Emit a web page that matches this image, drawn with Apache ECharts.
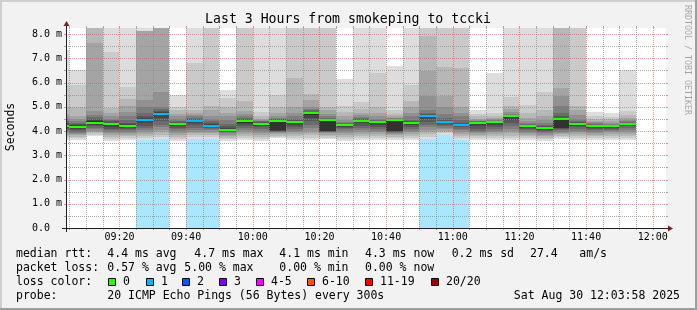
<!DOCTYPE html>
<html><head><meta charset="utf-8">
<script src="https://cdn.jsdelivr.net/npm/echarts@6/dist/echarts.min.js"></script>
<style>html,body{margin:0;padding:0;background:#f2f2f2}#c{width:697px;height:310px}</style>
</head><body><div id="c"></div>
<script>
// ---------- data ----------
const binStart = ['09:00','09:05','09:10','09:15','09:20','09:25','09:30','09:35','09:40','09:45','09:50','09:55',
                  '10:00','10:05','10:10','10:15','10:20','10:25','10:30','10:35','10:40','10:45','10:50','10:55',
                  '11:00','11:05','11:10','11:15','11:20','11:25','11:30','11:35','11:40','11:45','11:50'];
const median = [4.20,4.15,4.35,4.27,4.20,4.45,4.72,4.27,4.42,4.22,4.06,4.40,
                4.30,4.43,4.38,4.74,4.46,4.24,4.43,4.36,4.46,4.32,4.63,4.39,
                4.26,4.33,4.38,4.60,4.19,4.11,4.48,4.29,4.19,4.19,4.30];
const lossCount = [0,0,0,0,0,1,1,0,1,1,0,0, 0,0,0,0,0,0,0,0,0,0,1,1, 1,0,0,0,0,0,0,0,0,0,0];
// 20 sorted ping times (ms) per 5-minute bin
const pings = [
 [3.62,3.70,3.78,3.85,3.92,3.98,4.04,4.10,4.14,4.18, 4.24,4.28,4.33,4.40,4.48,4.58,4.70,5.00,5.90,7.35],
 [3.62,3.70,3.77,3.83,3.88,3.93,3.98,4.03,4.08,4.12, 4.20,4.25,4.30,4.35,4.42,4.50,4.62,4.98,5.89,6.53],
 [3.78,3.84,3.90,3.96,4.02,4.08,4.14,4.20,4.26,4.31, 4.40,4.45,4.50,4.58,4.68,4.82,7.65,8.40,8.40,8.40],
 [3.57,3.66,3.74,3.82,3.90,3.97,4.04,4.10,4.16,4.22, 4.30,4.35,4.40,4.45,4.50,4.60,4.75,4.95,7.24,8.40],
 [3.62,3.70,3.78,3.85,3.92,3.98,4.04,4.10,4.14,4.17, 4.25,4.30,4.35,4.45,4.60,4.80,5.03,5.33,5.80,8.40],
 [3.64,3.72,3.80,3.88,3.96,4.04,4.12,4.22,4.32,4.40, 4.48,4.53,4.62,4.75,5.00,5.29,8.12,8.13,8.14,8.40],
 [3.67,3.76,3.85,3.95,4.05,4.15,4.25,4.40,4.55,4.68, 4.75,4.78,4.82,4.90,5.01,5.63,8.40,8.40,8.40,8.40],
 [3.60,3.68,3.76,3.84,3.92,4.00,4.08,4.14,4.19,4.23, 4.30,4.33,4.37,4.42,4.50,4.60,4.70,4.85,5.00,5.47],
 [3.66,3.74,3.82,3.90,3.98,4.06,4.14,4.24,4.32,4.38, 4.44,4.47,4.50,4.54,4.60,4.66,4.76,4.88,6.80,8.40],
 [3.66,3.74,3.82,3.90,3.97,4.03,4.08,4.12,4.16,4.19, 4.25,4.28,4.33,4.40,4.50,4.60,4.85,5.04,8.40,8.40],
 [3.60,3.66,3.72,3.78,3.84,3.90,3.95,3.98,4.01,4.03, 4.09,4.13,4.20,4.30,4.45,4.60,4.75,5.00,5.35,5.70],
 [3.64,3.72,3.80,3.88,3.96,4.04,4.12,4.20,4.28,4.35, 4.45,4.47,4.50,4.55,4.60,4.70,4.81,5.22,8.40,8.40],
 [3.60,3.68,3.76,3.84,3.92,4.00,4.08,4.15,4.22,4.27, 4.33,4.35,4.37,4.40,4.42,4.45,4.50,4.60,4.80,8.40],
 [3.70,3.75,3.80,3.86,3.92,3.96,3.98,4.00,4.02,4.04, 4.45,4.46,4.48,4.50,4.54,4.60,4.75,4.98,5.47,8.40],
 [3.62,3.70,3.78,3.86,3.94,4.02,4.10,4.18,4.26,4.33, 4.40,4.42,4.45,4.50,4.60,4.75,5.01,6.18,8.40,8.40],
 [3.62,3.72,3.82,3.92,4.02,4.12,4.25,4.40,4.55,4.68, 4.76,4.78,4.80,4.85,4.90,5.00,5.30,5.53,8.40,8.40],
 [3.66,3.72,3.78,3.84,3.90,3.94,3.96,3.98,4.00,4.02, 4.47,4.48,4.50,4.55,4.60,4.70,4.85,5.00,8.40,8.40],
 [3.60,3.68,3.76,3.84,3.92,4.00,4.07,4.13,4.18,4.22, 4.26,4.28,4.30,4.33,4.38,4.45,4.60,4.80,5.04,6.16],
 [3.64,3.72,3.80,3.88,3.96,4.04,4.12,4.22,4.32,4.40, 4.45,4.46,4.48,4.52,4.58,4.65,4.75,4.90,5.20,8.40],
 [3.62,3.70,3.78,3.86,3.94,4.02,4.10,4.18,4.26,4.32, 4.38,4.40,4.42,4.45,4.50,4.60,4.75,5.00,6.39,8.40],
 [3.64,3.70,3.76,3.82,3.88,3.92,3.95,3.98,4.00,4.02, 4.47,4.48,4.49,4.50,4.52,4.55,4.60,4.70,4.85,6.69],
 [3.62,3.70,3.78,3.86,3.94,4.02,4.10,4.18,4.24,4.29, 4.34,4.36,4.40,4.45,4.60,4.75,5.00,5.22,5.91,8.40],
 [3.67,3.76,3.86,3.96,4.06,4.16,4.26,4.38,4.50,4.60, 4.65,4.67,4.70,4.75,4.88,5.43,6.49,7.90,8.40,8.40],
 [3.85,3.90,3.96,4.02,4.08,4.14,4.20,4.26,4.32,4.36, 4.41,4.43,4.47,4.55,4.70,5.00,5.43,6.66,8.40,8.40],
 [3.64,3.72,3.80,3.88,3.96,4.04,4.10,4.16,4.20,4.24, 4.28,4.30,4.35,4.45,4.60,4.75,5.00,6.60,8.40,8.40],
 [3.65,3.72,3.80,3.85,3.90,3.95,4.00,4.10,4.20,4.28, 4.35,4.36,4.38,4.40,4.42,4.45,4.50,4.60,4.70,4.88],
 [3.62,3.70,3.78,3.86,3.94,4.02,4.10,4.18,4.26,4.34, 4.39,4.40,4.41,4.43,4.45,4.48,4.52,4.60,4.75,6.40],
 [3.62,3.70,3.80,3.90,4.00,4.10,4.20,4.32,4.45,4.55, 4.62,4.63,4.65,4.68,4.72,4.80,4.90,5.05,5.40,8.40],
 [3.62,3.70,3.78,3.85,3.92,3.98,4.04,4.10,4.14,4.17, 4.21,4.23,4.26,4.30,4.35,4.42,4.55,4.75,5.07,8.40],
 [3.60,3.66,3.72,3.78,3.84,3.90,3.96,4.01,4.05,4.09, 4.13,4.15,4.20,4.25,4.35,4.45,4.60,4.85,5.63,8.40],
 [3.68,3.74,3.80,3.86,3.92,3.98,4.04,4.08,4.11,4.14, 4.50,4.53,4.60,4.75,5.02,5.43,5.77,8.40,8.40,8.40],
 [3.62,3.70,3.78,3.86,3.94,4.02,4.10,4.17,4.22,4.26, 4.31,4.33,4.37,4.42,4.50,4.65,4.85,5.04,8.40,8.40],
 [3.62,3.70,3.78,3.85,3.92,3.98,4.04,4.10,4.14,4.17, 4.21,4.22,4.25,4.28,4.32,4.36,4.42,4.50,4.60,4.80],
 [3.64,3.72,3.80,3.87,3.94,4.00,4.06,4.10,4.14,4.17, 4.20,4.21,4.23,4.26,4.30,4.34,4.40,4.48,4.58,4.73],
 [3.64,3.72,3.80,3.88,3.96,4.04,4.12,4.19,4.24,4.28, 4.32,4.33,4.35,4.38,4.42,4.47,4.55,4.67,4.84,6.53]
];
const timeRange = ['09:03:58', '12:03:58'];
const yRange = [0, 8.25];
const yMajorTicks = [1, 2, 3, 4, 5, 6, 7, 8];
const yMinorTicks = [0.5, 1.5, 2.5, 3.5, 4.5, 5.5, 6.5, 7.5];
const xMajorTicks = ['09:20','09:40','10:00','10:20','10:40','11:00','11:20','11:40','12:00'];
const lossLabels = ['0', '1', '2', '3', '4-5', '6-10', '11-19', '20/20'];
const lossColors = ['#26ff00', '#00b8ff', '#0059ff', '#7e00ff', '#ff00ff', '#ff5500', '#ff0000', '#a10000'];
const titleText = 'Last 3 Hours from smokeping to tccki';
const statsRtt = ['median rtt:', '4.4 ms avg', '4.7 ms max', '4.1 ms min', '4.3 ms now', '0.2 ms sd', '27.4', 'am/s'];
const statsLoss = ['packet loss:', '0.57 % avg', '5.00 % max', '0.00 % min', '0.00 % now'];
const probeText = ['probe:', '20 ICMP Echo Pings (56 Bytes) every 300s', 'Sat Aug 30 12:03:58 2025'];

// ---------- helpers ----------
function toMin(s) { const p = s.split(':').map(Number); return p[0] * 60 + p[1] + (p[2] || 0) / 60; }
const STEP = 5;
const tMin = toMin(timeRange[0]), tMax = toMin(timeRange[1]);
const xMinorTicks = [];
for (let t = Math.ceil(tMin / STEP) * STEP; t <= tMax; t += STEP) {
  if (!xMajorTicks.map(toMin).includes(t)) xMinorTicks.push(t);
}
const smokeData = binStart.map((s, i) => [toMin(s)].concat(pings[i]));
const medianData = binStart.map((s, i) => [toMin(s), median[i], lossCount[i]]);
const lossData = binStart.map((s, i) => [toMin(s), lossCount[i]]).filter(d => d[1] > 0);
function lossColorIndex(n) { return n === 0 ? 0 : n === 1 ? 1 : n === 2 ? 2 : n === 3 ? 3 : n <= 5 ? 4 : n <= 10 ? 5 : n <= 19 ? 6 : 7; }

const FONT = 'DejaVu Sans Mono';
const MGRID = 'rgba(222,79,79,0.6)';
const GRID = 'rgba(143,143,143,0.75)';

function renderSmoke(params, api) {
  const t = api.value(0);
  const xa = Math.round(api.coord([t, 0])[0]);
  const xb = Math.round(api.coord([t + STEP, 0])[0]);
  const children = [];
  for (let i = 1; i <= 10; i++) {
    const lo = api.value(i), hi = api.value(21 - i);
    const ya = Math.round(api.coord([t, hi])[1]);
    const yb = Math.round(api.coord([t, lo])[1]);
    const g = Math.floor(190 / 10 * (10 - i)) + 50;
    children.push({ type: 'rect', shape: { x: xa, y: ya, width: xb - xa, height: Math.max(0, yb - ya) },
      style: { fill: 'rgb(' + g + ',' + g + ',' + g + ')' } });
  }
  return { type: 'group', children };
}
function renderLoss(params, api) {
  const t = api.value(0), cs = params.coordSys;
  const xa = Math.round(api.coord([t, 0])[0]);
  const xb = Math.round(api.coord([t + STEP, 0])[0]);
  const c = lossColors[lossColorIndex(api.value(1))];
  return { type: 'rect', shape: { x: xa, y: cs.y, width: xb - xa, height: cs.height },
    style: { fill: c, opacity: 0.34 } };
}
function renderMedian(params, api) {
  const t = api.value(0);
  const xa = Math.round(api.coord([t, 0])[0]);
  const xb = Math.round(api.coord([t + STEP, 0])[0]);
  const y = Math.round(api.coord([t, api.value(1)])[1]);
  return { type: 'rect', shape: { x: xa, y: y - 1, width: xb - xa, height: 2 },
    style: { fill: lossColors[lossColorIndex(api.value(2))] } };
}
function seg(x1, y1, x2, y2, color, dash) {
  return { type: 'line', shape: { x1, y1, x2, y2 },
    style: { stroke: color, lineWidth: 1, lineDash: dash || null } };
}
function renderGrid(params, api) {
  const cs = params.coordSys;
  const L = cs.x, R = cs.x + cs.width, T = cs.y, B = cs.y + cs.height;
  const ch = [];
  function v(t, color) {
    const x = Math.round(api.coord([t, 0])[0]) + 0.5;
    ch.push(seg(x, T, x, B, color, [1, 1]));
    ch.push(seg(x, T - 2, x, T, color));
    ch.push(seg(x, B, x, B + 2, color));
  }
  function h(val, color) {
    const y = Math.round(api.coord([tMin, val])[1]) + 0.5;
    ch.push(seg(L, y, R, y, color, [1, 1]));
    ch.push(seg(L - 2, y, L, y, color));
    ch.push(seg(R, y, R + 2, y, color));
  }
  xMinorTicks.forEach(t => v(t, GRID));
  yMinorTicks.forEach(val => h(val, GRID));
  xMajorTicks.forEach(s => v(toMin(s), MGRID));
  yMajorTicks.forEach(val => h(val, MGRID));
  return { type: 'group', children: ch };
}
function renderAxes(params, api) {
  const cs = params.coordSys;
  const L = cs.x, R = cs.x + cs.width, T = cs.y, B = cs.y + cs.height;
  const AX = '#1f1f1f', AR = '#801f1f';
  return { type: 'group', children: [
    seg(L - 4, B + 0.5, R + 4, B + 0.5, AX),
    seg(L + 0.5, B + 4, L + 0.5, T - 4, AX),
    { type: 'polygon', shape: { points: [[R + 2, B - 2.5], [R + 2, B + 3.5], [R + 7, B + 0.5]] }, style: { fill: AR } },
    { type: 'polygon', shape: { points: [[L - 2.5, T - 2], [L + 3.5, T - 2], [L + 0.5, T - 7]] }, style: { fill: AR } }
  ] };
}
function pad2(n) { return (n < 10 ? '0' : '') + n; }

// ---------- legend / texts ----------
const LF = 11.5;
function txt(x, y, s, extra) {
  return Object.assign({ type: 'text', x, y, silent: true,
    style: Object.assign({ text: s, fontFamily: FONT, fontSize: LF, fill: '#000',
      verticalAlign: 'middle', textVerticalAlign: 'middle', align: 'left', textAlign: 'left' }, {}) }, extra || {});
}
const rows = [254, 268, 282, 296];
const graphics = [
  { type: 'rect', shape: { x: 0, y: 0, width: 697, height: 2 }, style: { fill: '#cfcfcf' }, silent: true },
  { type: 'rect', shape: { x: 0, y: 0, width: 2, height: 310 }, style: { fill: '#cfcfcf' }, silent: true },
  { type: 'rect', shape: { x: 0, y: 308, width: 697, height: 2 }, style: { fill: '#9e9e9e' }, silent: true },
  { type: 'rect', shape: { x: 695, y: 0, width: 2, height: 310 }, style: { fill: '#9e9e9e' }, silent: true },
  { type: 'text', x: 348, y: 19.5, silent: true, style: { text: titleText, fontFamily: FONT, fontSize: 13.2, fill: '#000',
      align: 'center', textAlign: 'center', verticalAlign: 'middle', textVerticalAlign: 'middle' } },
  { type: 'text', x: 11, y: 127, rotation: Math.PI / 2, silent: true, style: { text: 'Seconds', fontFamily: FONT, fontSize: LF, fill: '#000',
      align: 'center', textAlign: 'center', verticalAlign: 'middle', textVerticalAlign: 'middle' } },
  { type: 'text', x: 687, y: 60, rotation: -Math.PI / 2, silent: true, style: { text: 'RRDTOOL / TOBI OETIKER', fontFamily: FONT, fontSize: 8.3,
      fill: 'rgba(0,0,0,0.33)', align: 'center', textAlign: 'center', verticalAlign: 'middle', textVerticalAlign: 'middle' } }
];
const rttX = [16, 107.3, 194.3, 279.3, 365, 451.7, 530, 579.3];
statsRtt.forEach((s, i) => graphics.push(txt(rttX[i], rows[0], s)));
const lossX = [16, 107.3, 184.3, 279.3, 365];
statsLoss.forEach((s, i) => graphics.push(txt(lossX[i], rows[1], s)));
graphics.push(txt(16, rows[2], 'loss color:'));
const boxX = [108, 145.7, 182.3, 219, 255.7, 307.3, 365, 431];
lossLabels.forEach((s, i) => {
  const bx = Math.round(boxX[i]);
  graphics.push({ type: 'rect', silent: true, shape: { x: bx + 0.5, y: rows[2] - 3.5, width: 7, height: 7 },
    style: { fill: lossColors[i], stroke: '#000', lineWidth: 1 } });
  graphics.push(txt(bx + 15, rows[2], s));
});
graphics.push(txt(16, rows[3], probeText[0]));
graphics.push(txt(107.3, rows[3], probeText[1]));
graphics.push({ type: 'text', x: 680, y: rows[3], silent: true, style: { text: probeText[2], fontFamily: FONT, fontSize: LF, fill: '#000',
  align: 'right', textAlign: 'right', verticalAlign: 'middle', textVerticalAlign: 'middle' } });

// ---------- chart ----------
const chart = echarts.init(document.getElementById('c'), null, { renderer: 'canvas' });
chart.setOption({
  animation: false,
  backgroundColor: '#f2f2f2',
  grid: { left: 66, top: 28, width: 600, height: 200, show: true, backgroundColor: '#ffffff', borderWidth: 0 },
  xAxis: {
    type: 'value', min: tMin, max: tMax, splitNumber: 9, minInterval: 20, maxInterval: 20,
    axisLine: { show: false }, axisTick: { show: false }, splitLine: { show: false },
    axisLabel: { show: true, interval: 0, showMinLabel: false, showMaxLabel: false, margin: 4,
      fontFamily: FONT, fontSize: 10, color: '#000',
      formatter: v => pad2(Math.floor(v / 60)) + ':' + pad2(Math.round(v % 60)) }
  },
  yAxis: {
    type: 'value', min: yRange[0], max: yRange[1], interval: 1,
    axisLine: { show: false }, axisTick: { show: false }, splitLine: { show: false },
    axisLabel: { show: true, showMaxLabel: false, margin: 34, align: 'left',
      fontFamily: FONT, fontSize: 10, color: '#000',
      formatter: v => v === 0 ? '0.0' : v.toFixed(1) + ' m' }
  },
  graphic: graphics,
  series: [
    { type: 'custom', name: 'loss', z: 1, clip: true, data: lossData, renderItem: renderLoss, encode: { x: 0, y: 1 } },
    { type: 'custom', name: 'smoke', z: 2, clip: true, data: smokeData, renderItem: renderSmoke, encode: { x: 0, y: 1 } },
    { type: 'custom', name: 'median', z: 3, clip: true, data: medianData, renderItem: renderMedian, encode: { x: 0, y: 1 } },
    { type: 'custom', name: 'grid', z: 4, clip: false, data: [[tMin, 0]], renderItem: renderGrid, encode: { x: 0, y: 1 } },
    { type: 'custom', name: 'axes', z: 5, clip: false, data: [[tMin, 0]], renderItem: renderAxes, encode: { x: 0, y: 1 } }
  ]
});
</script></body></html>
